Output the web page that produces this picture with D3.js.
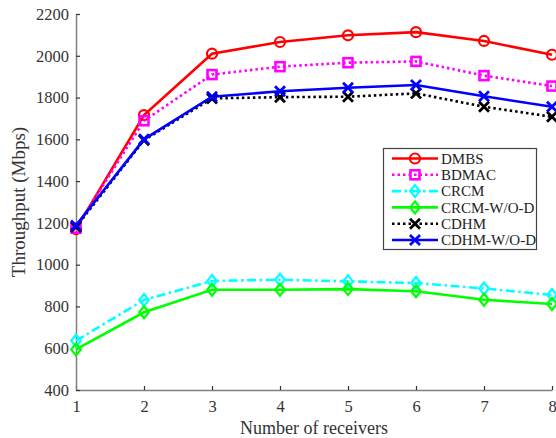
<!DOCTYPE html>
<html>
<head>
<meta charset="utf-8">
<script src="https://cdn.jsdelivr.net/npm/d3@7/dist/d3.min.js"></script>
<style>
  html, body { margin: 0; padding: 0; background: #fff; }
  svg { display: block; font-family: "Liberation Serif", "Times New Roman", serif; }
</style>
</head>
<body>
<svg id="chart" width="556" height="438"></svg>
<script>
// Throughput versus number of receivers
const receivers = [1, 2, 3, 4, 5, 6, 7, 8];
const dmbs      = [1170, 1716, 2010, 2066, 2098, 2113, 2071, 2005];
const bdmac     = [1175, 1689, 1910, 1948, 1967, 1973, 1905, 1855];
const crcm      = [636, 831, 922, 928, 920, 912, 886, 855];
const crcmWOD   = [594, 772, 880, 880, 883, 873, 832, 812];
const cdhm      = [1180, 1596, 1796, 1802, 1804, 1820, 1756, 1708];
const cdhmWOD   = [1188, 1600, 1804, 1830, 1847, 1860, 1806, 1756];
const yTicks    = [400, 600, 800, 1000, 1200, 1400, 1600, 1800, 2000, 2200];

const series = [
  { name: "DMBS",        values: dmbs,    color: "#ff0000", dash: null,            marker: "circle"  },
  { name: "BDMAC",       values: bdmac,   color: "#ff00ff", dash: "2.5,3",         marker: "square"  },
  { name: "CRCM",        values: crcm,    color: "#00ffff", dash: "9,3.5,2.5,3.5", marker: "diamond" },
  { name: "CRCM-W/O-D",  values: crcmWOD, color: "#00ff00", dash: null,            marker: "diamond" },
  { name: "CDHM",        values: cdhm,    color: "#000000", dash: "2.5,3",         marker: "cross"   },
  { name: "CDHM-W/O-D",  values: cdhmWOD, color: "#0000ff", dash: null,            marker: "cross"   }
];

const svg = d3.select("#chart");
const x = d3.scaleLinear().domain([1, 8]).range([76, 552]);
const y = d3.scaleLinear().domain([400, 2200]).range([390, 14]);

const axisColor = "#7f7f7f";
const textColor = "#333333";

// Axes (inward ticks)
const xAxis = svg.append("g")
  .attr("transform", `translate(0,${y(400)})`)
  .call(d3.axisBottom(x).tickValues(receivers).tickFormat(d3.format("d"))
    .tickSizeInner(-4).tickSizeOuter(0).tickPadding(10.5));
const yAxis = svg.append("g")
  .attr("transform", `translate(${x(1)},0)`)
  .call(d3.axisLeft(y).tickValues(yTicks).tickFormat(d3.format("d"))
    .tickSizeInner(-4).tickSizeOuter(0).tickPadding(7));

[xAxis, yAxis].forEach(g => {
  g.select(".domain").attr("stroke", axisColor).attr("stroke-width", 1.5);
  g.selectAll(".tick line").attr("stroke", "#333").attr("stroke-width", 1.2);
  g.selectAll(".tick text").attr("fill", textColor)
    .style("font-family", "'Liberation Serif', 'Times New Roman', serif")
    .style("font-size", "16.5px");
});

// Axis titles
svg.append("text")
  .attr("x", x(4.5)).attr("y", 434)
  .attr("text-anchor", "middle")
  .attr("fill", textColor)
  .style("font-size", "18px")
  .text("Number of receivers");
svg.append("text")
  .attr("transform", `translate(25,${y(1300)}) rotate(-90)`)
  .attr("text-anchor", "middle")
  .attr("fill", textColor)
  .style("font-size", "19px")
  .text("Throughput (Mbps)");

// Marker drawing helper
function drawMarker(g, type, cx, cy, color) {
  const sw = 2.2;
  if (type === "circle") {
    g.append("circle").attr("cx", cx).attr("cy", cy).attr("r", 5)
      .attr("fill", "none").attr("stroke", color).attr("stroke-width", sw);
  } else if (type === "square") {
    g.append("rect").attr("x", cx - 4.5).attr("y", cy - 4.5)
      .attr("width", 9).attr("height", 9)
      .attr("fill", "none").attr("stroke", color).attr("stroke-width", 2.6);
  } else if (type === "diamond") {
    const r = 6;
    g.append("path")
      .attr("d", `M${cx},${cy - r}L${cx + r * 0.8},${cy}L${cx},${cy + r}L${cx - r * 0.8},${cy}Z`)
      .attr("fill", "none").attr("stroke", color).attr("stroke-width", sw);
  } else if (type === "cross") {
    const r = 5;
    g.append("path")
      .attr("d", `M${cx - r},${cy - r}L${cx + r},${cy + r}M${cx - r},${cy + r}L${cx + r},${cy - r}`)
      .attr("fill", "none").attr("stroke", color).attr("stroke-width", 2.8);
  }
}

const line = d3.line().x((d, i) => x(receivers[i])).y(d => y(d));
const plot = svg.append("g");

series.forEach(s => {
  const g = plot.append("g");
  g.append("path")
    .datum(s.values)
    .attr("d", line)
    .attr("fill", "none")
    .attr("stroke", s.color)
    .attr("stroke-width", 2.6)
    .attr("stroke-dasharray", s.dash);
  s.values.forEach((v, i) => drawMarker(g, s.marker, x(receivers[i]), y(v), s.color));
});

// Legend
const lg = svg.append("g");
lg.append("rect")
  .attr("x", 383.5).attr("y", 148.5).attr("width", 153).attr("height", 101)
  .attr("fill", "#fff").attr("stroke", "#444").attr("stroke-width", 1.2);
series.forEach((s, i) => {
  const cy = 158.5 + i * 16.3;
  lg.append("line")
    .attr("x1", 392).attr("x2", 438).attr("y1", cy).attr("y2", cy)
    .attr("stroke", s.color).attr("stroke-width", 2.6)
    .attr("stroke-dasharray", s.dash);
  drawMarker(lg, s.marker, 415, cy, s.color);
  lg.append("text")
    .attr("x", 441).attr("y", cy + 5.3)
    .attr("fill", "#222")
    .style("font-size", "15px")
    .text(s.name);
});
</script>
</body>
</html>
